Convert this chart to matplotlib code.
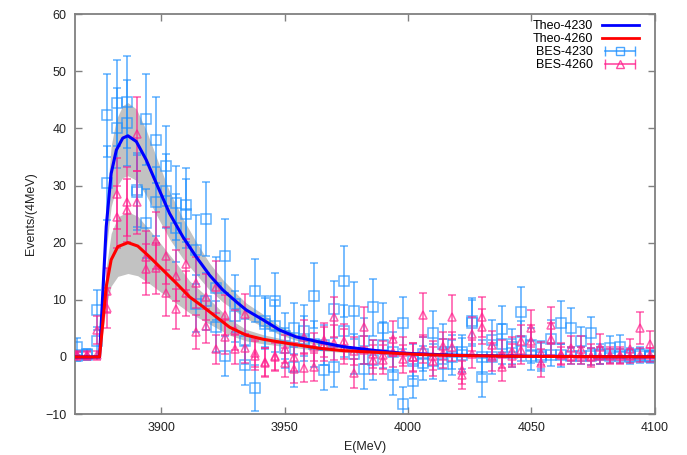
import numpy as np
import matplotlib
matplotlib.use("Agg")
import matplotlib.pyplot as plt
from matplotlib.lines import Line2D
from matplotlib.legend_handler import HandlerLine2D

plt.rcParams['font.family'] = ['Liberation Sans', 'DejaVu Sans']

# bin centres (4 MeV bins)
energy = np.arange(3866, 4100, 4)

# BES data at 4230 (two sub-samples drawn with the same style)
bes4230_a = [1.8, 0.5, 8.2, 42.3, 44.5, 44.6, 28.8, 41.6, 38.0, 33.5, 26.9, 26.6, 18.8, 24.1, 12.0,
             17.6, 9.3, 2.7, 11.6, 6.2, 9.7, 3.7, 5.0, 4.6, 10.7, -2.3, 8.3, 13.2, 8.1, 2.8,
             8.7, 5.0, 0.9, 5.9, -0.8, -1.1, 4.1, 2.2, -0.1, 0.9, 6.3, 0.0, 3.0, 4.9, 1.8,
             7.9, 2.0, 0.0, 3.2, 6.0, 5.1, 2.7, 4.2, 0.5, 1.6, 1.8, 0.0, 0.5, 0.0]
bes4230_b = [0.2, 0.3, 2.7, 30.4, 40.0, 41.0, 29.2, 23.4, 27.2, 29.0, 22.6, 25.1, 9.3, 9.7, 5.3,
             0.2, 7.1, -1.4, -5.5, 5.8, 5.4, 1.5, -1.7, 3.2, 2.3, 2.0, -1.7, 4.5, 0.5, -2.1,
             -0.5, 2.1, -3.1, -8.2, -4.2, 0.5, -0.8, -1.3, 0.8, 0.3, 5.9, -3.6, 0.0, 2.2, 0.7,
             2.8, 0.2, 0.3, 0.4, 0.3, 0.2, 0.2, 0.1, 0.3, 0.1, 0.1, 0.3, 0.2, 0.2]
err4230_a = [1.5, 0.8, 3.5, 7.3, 7.5, 8.0, 6.5, 8.0, 7.5, 7.0, 6.5, 6.5, 6.0, 6.5, 5.5,
             6.5, 5.0, 4.0, 5.5, 4.5, 5.0, 4.0, 4.5, 4.5, 5.7, 3.5, 5.0, 6.2, 5.0, 4.0,
             5.0, 4.5, 3.5, 4.5, 3.0, 3.0, 4.0, 3.5, 3.0, 3.0, 4.0, 3.0, 3.5, 4.0, 3.0,
             4.4, 3.0, 2.5, 3.2, 3.8, 3.5, 2.5, 2.8, 1.8, 2.0, 2.0, 1.2, 1.2, 1.0]
err4230_b = [1.0, 0.8, 2.5, 6.5, 7.0, 7.5, 6.5, 6.0, 6.0, 6.5, 6.0, 6.0, 5.0, 5.0, 4.5,
             3.5, 4.5, 3.5, 4.0, 4.5, 4.5, 3.5, 3.5, 4.0, 4.0, 3.5, 3.5, 4.5, 3.5, 3.5,
             3.5, 4.0, 3.5, 3.0, 3.0, 3.0, 3.0, 3.0, 3.0, 3.0, 4.0, 3.4, 3.0, 3.5, 2.5,
             3.5, 2.5, 2.5, 2.0, 2.0, 1.5, 1.5, 1.5, 1.5, 1.2, 1.2, 1.2, 1.2, 1.0]

# BES data at 4260
bes4260_a = [0.3, 0.3, 4.7, 11.6, 28.6, 27.2, 39.0, 17.5, 20.3, 17.7, 14.2, 16.2, 13.0, 10.5, 12.2,
             7.3, 4.7, 7.5, 0.7, -0.9, 0.2, 1.4, 0.0, 3.5, 1.7, 3.0, 7.0, 2.7, -2.9, 5.3,
             -0.5, -0.5, 3.2, 0.9, 0.0, 7.3, -0.8, 0.6, 7.0, -2.3, 4.0, 7.0, 2.1, -1.8, 1.0,
             2.8, 5.0, -1.1, 5.5, 0.5, 1.5, 1.4, 0.2, 1.8, 0.3, 0.3, 1.4, 5.0, 2.3]
bes4260_b = [0.3, 0.3, 0.3, 8.5, 24.5, 25.7, 27.1, 15.3, 15.5, 11.2, 8.3, 11.1, 4.4, 5.4, 1.3,
             3.5, 1.3, 1.5, 0.2, -1.0, 0.0, -1.0, -2.1, -1.9, -1.8, 2.3, 2.5, 1.8, 1.0, 1.2,
             0.5, 0.3, 0.8, -0.4, -0.1, 1.4, 0.2, 1.9, 1.8, -3.2, 0.5, 5.3, 0.0, 0.5, 0.2,
             1.2, 2.8, 0.6, 3.2, 0.3, 0.2, 0.3, 0.0, 0.2, 0.1, 0.2, 0.2, 0.3, 0.3]
err4260_a = [0.8, 0.8, 2.5, 4.0, 6.2, 6.0, 6.5, 4.5, 5.0, 5.0, 4.5, 4.5, 4.5, 4.0, 4.5,
             3.5, 3.5, 3.5, 2.5, 2.5, 2.5, 2.5, 2.5, 3.0, 2.5, 3.0, 3.5, 3.0, 2.5, 3.5,
             2.5, 2.5, 3.0, 2.5, 2.5, 3.9, 2.5, 2.5, 3.8, 2.5, 3.0, 3.5, 2.5, 2.5, 2.5,
             2.8, 3.2, 2.5, 3.3, 2.0, 2.2, 2.2, 2.0, 2.2, 1.5, 1.5, 1.8, 2.8, 2.3]
err4260_b = [0.5, 0.5, 0.8, 3.5, 5.5, 5.5, 5.5, 4.5, 4.5, 4.0, 3.5, 4.0, 3.0, 3.0, 2.5,
             3.0, 2.5, 2.5, 2.5, 2.5, 2.5, 2.5, 2.5, 2.5, 2.5, 3.0, 3.0, 3.0, 2.5, 2.5,
             2.5, 2.5, 2.5, 2.5, 2.5, 2.5, 2.5, 2.5, 2.5, 2.5, 2.5, 3.0, 2.5, 2.5, 2.0,
             2.5, 2.8, 2.0, 2.8, 1.5, 1.5, 1.5, 1.5, 1.5, 1.2, 1.2, 1.2, 1.2, 1.2]

# theory curves with uncertainty bands
e_theo_4230 = [3865, 3875, 3876.3, 3877.7, 3879.7, 3881.8, 3884.4, 3886.5, 3889.9, 3893.9, 3898.6,
               3903.4, 3908.8, 3914.2, 3919.6, 3925, 3931.1, 3934.5, 3941.2, 3948, 3954.7,
               3964.2, 3973.6, 3987.2, 3996.6, 4006, 4020, 4040, 4060, 4080, 4100]
theo_4230 = [0, 0, 11.1, 22.8, 32.1, 36.2, 38.3, 38.7, 37.7, 34.5, 29.8,
             25.1, 21.0, 17.5, 14.3, 11.7, 9.4, 8.2, 6.5, 4.7, 3.5,
             2.6, 1.8, 1.1, 0.7, 0.5, 0.3, 0.15, 0.1, 0.05, 0.03]
theo_4230_hi = [0, 0, 12.8, 26.2, 36.9, 41.6, 44.0, 44.5, 43.4, 39.7, 34.3,
                28.9, 24.2, 20.1, 16.4, 13.5, 10.8, 9.4, 7.5, 5.4, 4.0,
                3.0, 2.1, 1.3, 0.8, 0.6, 0.35, 0.17, 0.12, 0.06, 0.03]
theo_4230_lo = [0, 0, 9.1, 18.7, 26.3, 29.7, 31.4, 31.7, 30.9, 28.3, 24.4,
                20.6, 17.2, 14.4, 11.7, 9.6, 7.7, 6.7, 5.3, 3.9, 2.9,
                2.1, 1.5, 0.9, 0.6, 0.4, 0.25, 0.12, 0.08, 0.04, 0.02]

e_theo_4260 = [3865, 3875, 3876.3, 3877.7, 3879.7, 3882.4, 3886.5, 3890.5, 3895.3, 3900,
               3906.1, 3911.5, 3916.9, 3922.3, 3927.7, 3934.5, 3941.2, 3950.7, 3964.2,
               3973.6, 3996.6, 4006, 4020, 4040, 4060, 4080, 4100]
theo_4260 = [0, 0, 5.9, 12.3, 17.0, 19.3, 20.0, 19.4, 17.5, 15.5,
             12.9, 10.5, 8.8, 7.0, 5.2, 3.8, 3.1, 2.4, 1.5,
             1.1, 0.6, 0.4, 0.25, 0.12, 0.07, 0.04, 0.02]
theo_4260_hi = [0, 0, 7.5, 15.6, 21.6, 24.5, 25.4, 24.6, 22.2, 19.7,
                16.4, 13.3, 11.2, 8.9, 6.6, 4.8, 3.9, 3.0, 1.9,
                1.4, 0.8, 0.5, 0.3, 0.15, 0.09, 0.05, 0.03]
theo_4260_lo = [0, 0, 4.3, 9.0, 12.4, 14.1, 14.6, 14.2, 12.8, 11.3,
                9.4, 7.7, 6.4, 5.1, 3.8, 2.8, 2.3, 1.8, 1.1,
                0.8, 0.4, 0.3, 0.18, 0.09, 0.05, 0.03, 0.01]

x_ticks = [3900, 3950, 4000, 4050, 4100]
y_ticks = [-10, 0, 10, 20, 30, 40, 50, 60]

c_blue = '#1e90ff'
c_pink = '#ff1e8c'

fig = plt.figure(figsize=(6.87, 4.55), dpi=100)
ax = fig.add_axes([0.109, 0.090, 0.844, 0.879])

ax.fill_between(e_theo_4230, theo_4230_lo, theo_4230_hi, color='#c2c2c2', lw=0, zorder=1)
ax.fill_between(e_theo_4260, theo_4260_lo, theo_4260_hi, color='#c2c2c2', lw=0, zorder=1)

for vals, errs in [(bes4230_a, err4230_a), (bes4230_b, err4230_b)]:
    ax.errorbar(energy, vals, yerr=errs, fmt='s', ms=6.5, mfc='none', mec=c_blue, mew=1.1,
                ecolor=c_blue, elinewidth=1.2, capsize=3, capthick=1.2, alpha=0.7, zorder=2)
for vals, errs in [(bes4260_a, err4260_a), (bes4260_b, err4260_b)]:
    ax.errorbar(energy, vals, yerr=errs, fmt='^', ms=5.5, mfc='none', mec=c_pink, mew=1.1,
                ecolor=c_pink, elinewidth=1.2, capsize=3, capthick=1.2, alpha=0.7, zorder=3)

ax.plot(e_theo_4230, theo_4230, color='#0000ff', lw=2.2, zorder=4)
ax.plot(e_theo_4260, theo_4260, color='#ff0000', lw=2.2, zorder=5)

ax.set_xlim(3865, 4100)
ax.set_ylim(-10, 60)
ax.set_xticks(x_ticks)
ax.set_yticks(y_ticks)
ax.tick_params(direction='in', length=5, width=1, color='#808080', labelsize=9,
               top=True, right=True, labelcolor='#222222', pad=6)
for s in ax.spines.values():
    s.set_color('#808080')
    s.set_linewidth(1.3)

ax.set_xlabel('E(MeV)', fontsize=9, color='#222222', labelpad=5)
ax.set_ylabel('Events/(4MeV)', fontsize=9, color='#222222', labelpad=6)

# legend, gnuplot style: text first, horizontal error bar sample
h_b = Line2D([], [], color='#0000ff', lw=2)
h_r = Line2D([], [], color='#ff0000', lw=2)
cap_b = Line2D([], [], color=c_blue, lw=1.2, marker='|', ms=7, alpha=0.8)
sq_b = Line2D([], [], color=c_blue, ls='none', marker='s', ms=6, mfc='none', alpha=0.8)
cap_p = Line2D([], [], color=c_pink, lw=1.2, marker='|', ms=7, alpha=0.8)
tr_p = Line2D([], [], color=c_pink, ls='none', marker='^', ms=5.5, mfc='none', alpha=0.8)
hmap = {cap_b: HandlerLine2D(numpoints=2), cap_p: HandlerLine2D(numpoints=2),
        sq_b: HandlerLine2D(numpoints=1), tr_p: HandlerLine2D(numpoints=1)}
ax.legend([h_b, h_r, (cap_b, sq_b), (cap_p, tr_p)],
          ['Theo-4230', 'Theo-4260', 'BES-4230', 'BES-4260'],
          handler_map=hmap, loc='upper right', bbox_to_anchor=(0.984, 1.0),
          frameon=False, markerfirst=False, fontsize=9, labelspacing=0.08,
          handlelength=3.0, handletextpad=0.7, borderpad=0)

fig.savefig('out.png', dpi=100)
